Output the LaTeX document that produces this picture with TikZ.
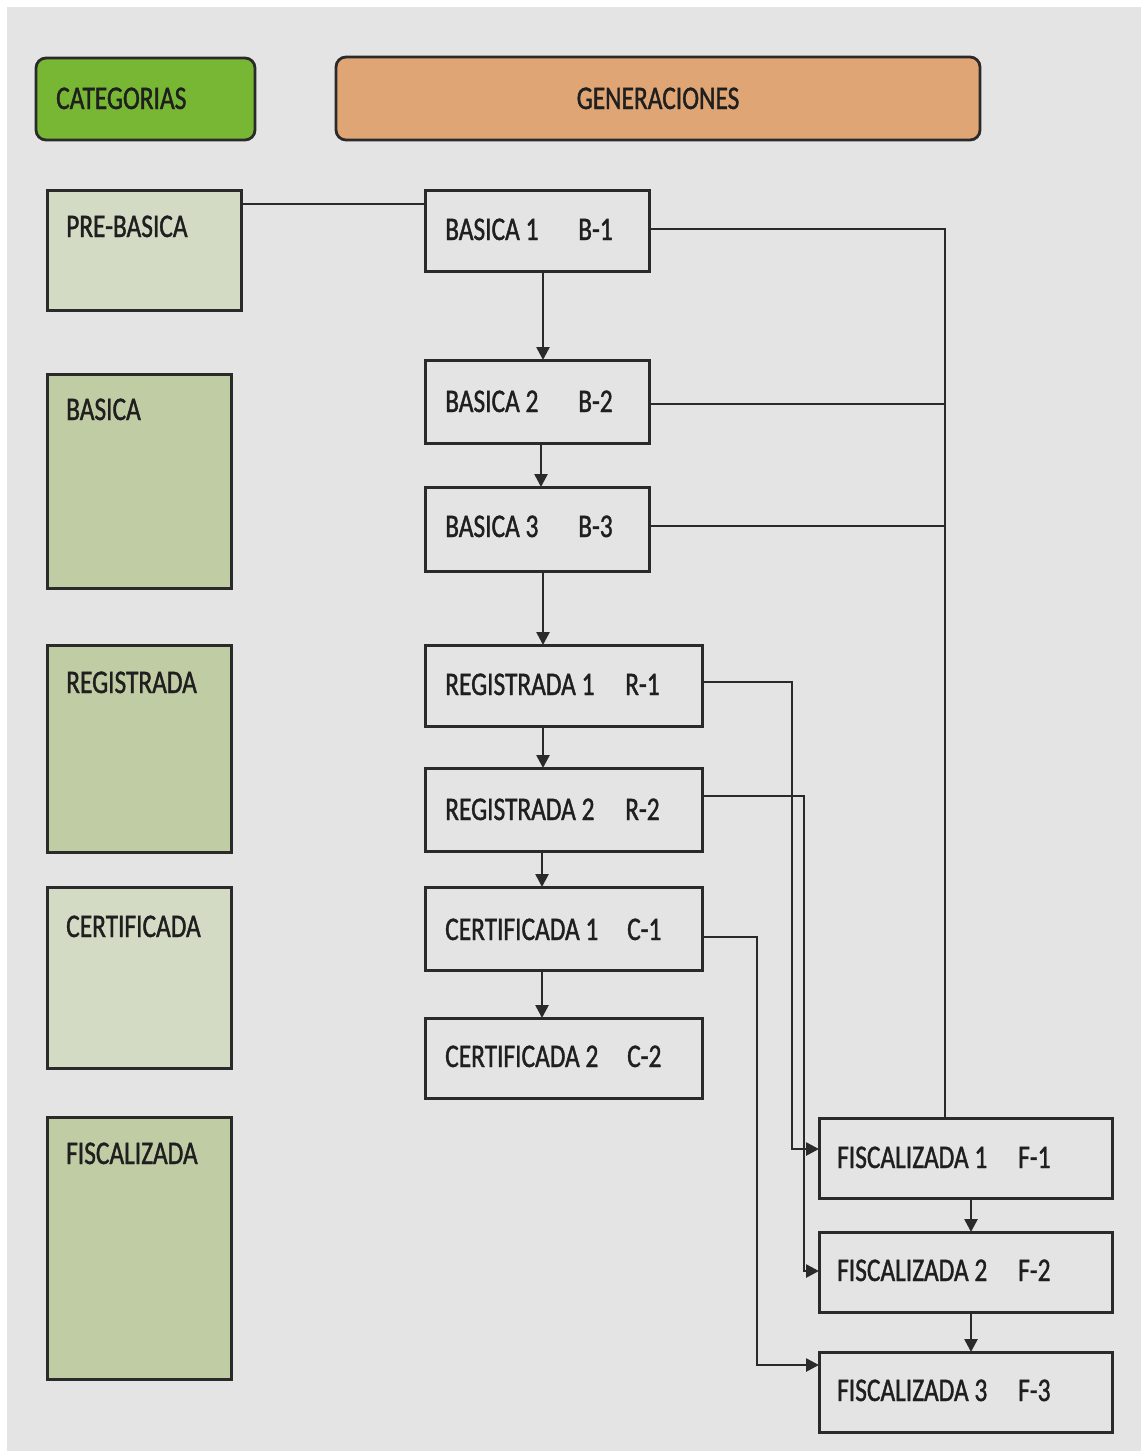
\documentclass[tikz,border=0pt]{standalone}
\usepackage{fontspec}
\setmainfont{Carlito}[FakeStretch=0.77,FakeBold=1.2]
\usetikzlibrary{arrows.meta}
\definecolor{bgc}{HTML}{E4E4E4}
\definecolor{catgreen}{HTML}{77B733}
\definecolor{genorange}{HTML}{E0A574}
\definecolor{lightolive}{HTML}{D3DBC5}
\definecolor{olive}{HTML}{C0CCA4}
\definecolor{edge}{HTML}{2A2A2A}
\tikzset{
  hdr/.style={draw=edge, line width=2.8pt, rounded corners=10pt, inner sep=0pt, outer sep=0pt},
  catbox/.style={draw=edge, line width=3pt, inner sep=0pt, outer sep=0pt},
  genbox/.style={draw=edge, line width=3pt, inner sep=0pt, outer sep=0pt},
  lbl/.style={anchor=base west, inner sep=0pt, font=\fontsize{33}{36}\selectfont, text=black!88},
  conn/.style={draw=edge, line width=2.6pt},
  arr/.style={conn, -{Triangle[length=13pt,width=13pt]}}
}
\begin{document}
\begin{tikzpicture}[x=1pt,y=-1pt]
\useasboundingbox (0,0) rectangle (1141,1451);
\fill[white] (0,0) rectangle (1141,1451);
\fill[bgc] (7,7) rectangle (1141,1451);

% headers
\node[hdr, fill=catgreen, minimum width=219pt, minimum height=82pt] (cat) at (145.5,99) {};
\node[lbl] (catT) at (56,109) {CATEGORIAS};
\node[hdr, fill=genorange, minimum width=644pt, minimum height=83pt] (gen) at (658,98.5) {};
\node[lbl, anchor=base] (genT) at (658,109) {GENERACIONES};

% categories
\node[catbox, fill=lightolive, minimum width=194pt, minimum height=120pt] (pre) at (144,250) {};
\node[lbl] (preT) at (66,237) {PRE-BASICA};
\node[catbox, fill=olive, minimum width=184pt, minimum height=214pt] (bas) at (139,481) {};
\node[lbl] (basT) at (66,420) {BASICA};
\node[catbox, fill=olive, minimum width=184pt, minimum height=207pt] (reg) at (139,748.5) {};
\node[lbl] (regT) at (66,693) {REGISTRADA};
\node[catbox, fill=lightolive, minimum width=184pt, minimum height=181pt] (cer) at (139,977.5) {};
\node[lbl] (cerT) at (66,937) {CERTIFICADA};
\node[catbox, fill=olive, minimum width=184pt, minimum height=262pt] (fis) at (139,1248) {};
\node[lbl] (fisT) at (66,1164) {FISCALIZADA};

% generation boxes
\node[genbox, minimum width=224pt, minimum height=81pt] (b1) at (537,230.5) {};
\node[lbl] (b1T) at (445,240) {BASICA 1};
\node[lbl] (b1C) at (578,240) {B-1};
\node[genbox, minimum width=224pt, minimum height=83pt] (b2) at (537,401.5) {};
\node[lbl] (b2T) at (445,412) {BASICA 2};
\node[lbl] (b2C) at (578,412) {B-2};
\node[genbox, minimum width=224pt, minimum height=84pt] (b3) at (537,529) {};
\node[lbl] (b3T) at (445,537) {BASICA 3};
\node[lbl] (b3C) at (578,537) {B-3};
\node[genbox, minimum width=277pt, minimum height=81pt] (r1) at (563.5,685.5) {};
\node[lbl] (r1T) at (445,695) {REGISTRADA 1};
\node[lbl] (r1C) at (625,695) {R-1};
\node[genbox, minimum width=277pt, minimum height=83pt] (r2) at (563.5,809.5) {};
\node[lbl] (r2T) at (445,820) {REGISTRADA 2};
\node[lbl] (r2C) at (625,820) {R-2};
\node[genbox, minimum width=277pt, minimum height=83pt] (c1) at (563.5,928.5) {};
\node[lbl] (c1T) at (445,940) {CERTIFICADA 1};
\node[lbl] (c1C) at (627,940) {C-1};
\node[genbox, minimum width=277pt, minimum height=80pt] (c2) at (563.5,1058) {};
\node[lbl] (c2T) at (445,1067) {CERTIFICADA 2};
\node[lbl] (c2C) at (627,1067) {C-2};
\node[genbox, minimum width=293pt, minimum height=80pt] (f1) at (965.5,1158) {};
\node[lbl] (f1T) at (837,1168) {FISCALIZADA 1};
\node[lbl] (f1C) at (1018,1168) {F-1};
\node[genbox, minimum width=293pt, minimum height=80pt] (f2) at (965.5,1272) {};
\node[lbl] (f2T) at (837,1281) {FISCALIZADA 2};
\node[lbl] (f2C) at (1018,1281) {F-2};
\node[genbox, minimum width=293pt, minimum height=80pt] (f3) at (965.5,1392) {};
\node[lbl] (f3T) at (837,1401) {FISCALIZADA 3};
\node[lbl] (f3C) at (1018,1401) {F-3};

% connectors
\draw[conn] (pre.east |- 0,204) -- (b1.west |- 0,204);
\draw[arr] (b1.south -| 543,0) -- (b2.north -| 543,0);
\draw[arr] (b2.south -| 541,0) -- (b3.north -| 541,0);
\draw[arr] (b3.south -| 543,0) -- (r1.north -| 543,0);
\draw[arr] (r1.south -| 543,0) -- (r2.north -| 543,0);
\draw[arr] (r2.south -| 542,0) -- (c1.north -| 542,0);
\draw[arr] (c1.south -| 542,0) -- (c2.north -| 542,0);
\draw[arr] (f1.south -| 971,0) -- (f2.north -| 971,0);
\draw[arr] (f2.south -| 971,0) -- (f3.north -| 971,0);

\draw[conn] (b1.east |- 0,229) -- (945,229) -- (f1.north -| 945,0);
\draw[conn] (b2.east |- 0,404) -- (945,404);
\draw[conn] (b3.east |- 0,526) -- (945,526);

\draw[arr] (r1.east |- 0,682) -- (792,682) -- (792,1149) -- (f1.west |- 0,1149);
\draw[arr] (r2.east |- 0,796) -- (804,796) -- (804,1271) -- (f2.west |- 0,1271);
\draw[arr] (c1.east |- 0,937) -- (757,937) -- (757,1365) -- (f3.west |- 0,1365);
\end{tikzpicture}
\end{document}
